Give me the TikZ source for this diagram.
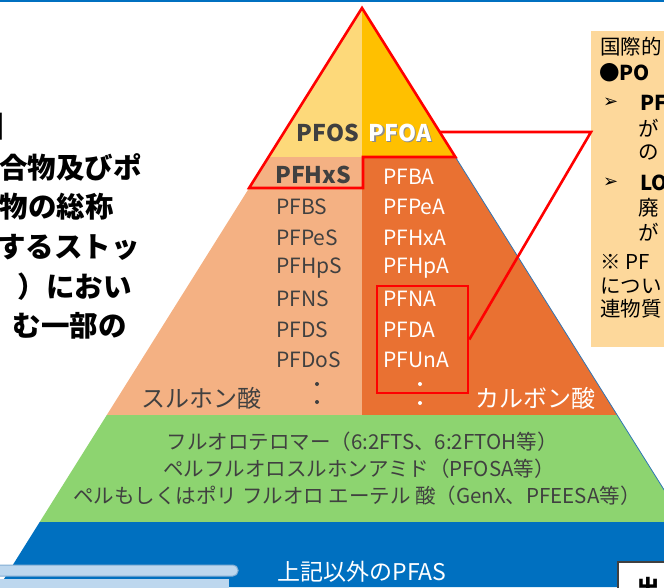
\documentclass[tikz,border=0pt]{standalone}
\usepackage{fontspec}
\newfontfamily\jp{Noto Sans CJK JP}
\newfontfamily\dv{DejaVu Sans}
\definecolor{ylwL}{HTML}{FDD97A}
\definecolor{ylwR}{HTML}{FFC000}
\definecolor{pinkC}{HTML}{F4B183}
\definecolor{orgC}{HTML}{E97132}
\definecolor{grnC}{HTML}{8DD470}
\definecolor{bluC}{HTML}{0070C0}
\definecolor{ltblu}{HTML}{BDD7EE}
\definecolor{edgeblu}{HTML}{2E75B6}
\definecolor{tanC}{HTML}{FDD89B}
\definecolor{txtG}{HTML}{404040}
\definecolor{redC}{HTML}{FF0000}
\tikzset{
  lbl/.style={font=\jp\fontsize{21}{21}\selectfont, inner sep=0pt, anchor=west},
  lblL/.style={lbl, text=txtG},
  lblR/.style={lbl, text=white},
  bigb/.style={font=\jp\bfseries\fontsize{23}{23}\selectfont, inner sep=0pt},
  grn/.style={font=\jp\fontsize{20.5}{20.5}\selectfont, text=txtG, inner sep=0pt},
  lefttxt/.style={font=\jp\bfseries\fontsize{28.5}{28.5}\selectfont, inner sep=0pt, anchor=east, text=black},
  rtxt/.style={font=\jp\fontsize{20.5}{20.5}\selectfont, inner sep=0pt, anchor=west, text=black},
  rtxtb/.style={font=\jp\bfseries\fontsize{20.5}{20.5}\selectfont, inner sep=0pt, anchor=west, text=black},
  arrowsym/.style={font=\dv\fontsize{18}{18}\selectfont, inner sep=0pt, anchor=west, text=black},
  redline/.style={draw=redC, line width=2.6pt},
  dotL/.style={circle, fill=txtG, inner sep=0pt, minimum size=4pt},
  dotR/.style={circle, fill=white, inner sep=0pt, minimum size=4pt}
}
\begin{document}
\begin{tikzpicture}[x=1pt,y=-1pt]
\useasboundingbox (0,0) rectangle (664,587);
\clip (0,0) rectangle (664,587);
% top rule
\draw[bluC, line width=1.6pt] (0,0.8) -- (664,0.8);
% pyramid bands
\fill[ylwL] (362,8) -- (268.6,157) -- (362,157) -- cycle;
\fill[ylwR] (362,8) -- (362,157) -- (455.4,157) -- cycle;
\fill[pinkC] (268.6,157) -- (362,157) -- (362,415) -- (106.8,415) -- cycle;
\fill[orgC] (362,157) -- (455.4,157) -- (617.2,415) -- (362,415) -- cycle;
\fill[grnC] (106.8,415) -- (617.2,415) -- (684.3,522) -- (39.7,522) -- cycle;
\fill[bluC] (39.7,522) -- (684.3,522) -- (725,587) -- (-1,587) -- cycle;
\draw[edgeblu, line width=0.8pt] (455.4,157) -- (725,587);
% bottom-left bars
\draw[draw=edgeblu!60, fill=ltblu, line width=1pt, rounded corners=5pt] (-10,565) rectangle (238,576);
\fill[ltblu] (-5,578.5) rectangle (229,590);
% bottom-right box
\node[draw=txtG, fill=white, line width=1.5pt, minimum width=70pt, minimum height=40pt, anchor=north west, inner sep=0pt] (srcbox) at (617,561) {};
\node[font=\jp\bfseries\fontsize{24}{24}\selectfont, inner sep=0pt, anchor=north west] (srctxt) at (636,577) {出};
% red outline of top
\draw[redline, line join=miter] (362,8) -- (249.1,188) -- (363,188) -- (363,157) -- (455.4,157) -- cycle;
% apex labels
\node[bigb, text=txtG] (pfos) at (328,133) {PFOS};
\node[bigb, text=black!45] at (401.2,134.2) {PFOA};
\node[bigb, text=white] (pfoa) at (400,133) {PFOA};
\node[bigb, text=txtG, anchor=west] (pfhxs) at (275,175) {PFHxS};
% left column
\node[lblL] (pfbs) at (276,207) {PFBS};
\node[lblL] (pfpes) at (276,238) {PFPeS};
\node[lblL] (pfhps) at (276,268) {PFHpS};
\node[lblL] (pfns) at (276,299) {PFNS};
\node[lblL] (pfds) at (276,330) {PFDS};
\node[lblL] (pfdos) at (276,360) {PFDoS};
\node[dotL] (dl1) at (317,384) {};
\node[dotL] (dl2) at (317,402) {};
% right column
\node[lblR] (pfba) at (383,177) {PFBA};
\node[lblR] (pfpea) at (383,207) {PFPeA};
\node[lblR] (pfhxa) at (383,238) {PFHxA};
\node[lblR] (pfhpa) at (383,268) {PFHpA};
\node[lblR] (pfna) at (383,299) {PFNA};
\node[lblR] (pfda) at (383,330) {PFDA};
\node[lblR] (pfuna) at (383,360) {PFUnA};
\node[dotR] (dr1) at (420,384) {};
\node[dotR] (dr2) at (420,403) {};
% red box around PFNA..
\node[redline, minimum width=91pt, minimum height=107pt, inner sep=0pt] (pfnabox) at (422.5,339.5) {};
% acid labels
\node[font=\jp\fontsize{24}{24}\selectfont, text=txtG, inner sep=0pt] (sulf) at (201,398) {スルホン酸};
\node[font=\jp\fontsize{24}{24}\selectfont, text=white, inner sep=0pt] (carb) at (535,398) {カルボン酸};
% green band text
\node[grn] (g1) at (362,442) {フルオロテロマー（6:2FTS、6:2FTOH等）};
\node[grn] (g2) at (359,469) {ペルフルオロスルホンアミド（PFOSA等）};
\node[grn] (g3) at (357,496) {ペルもしくはポリ フルオロ エーテル 酸（GenX、PFEESA等）};
% blue band text
\node[font=\jp\fontsize{23}{23}\selectfont, text=white, inner sep=0pt] (other) at (362,572) {上記以外のPFAS};
% left text (cut off)
\node[lefttxt] (l0) at (21.5,127) {】};
\node[lefttxt] (l1) at (142,167) {合物及びポ};
\node[lefttxt] (l2) at (114,207) {物の総称};
\node[lefttxt] (l3) at (140,247) {するストッ};
\node[lefttxt] (l4) at (132,287) {）におい};
\node[lefttxt] (l5) at (127,326) {む一部の};
% right box
\node[fill=tanC, minimum width=90pt, minimum height=316pt, anchor=north west, inner sep=0pt] (rbox) at (591,31) {};
\node[rtxt] (r1) at (600,47) {国際的};
\node[rtxtb] (r2) at (599,73) {●PO};
\node[arrowsym] (r3a) at (603,103) {➢};
\node[rtxtb] (r3) at (640,103) {PF};
\node[rtxt] (r4) at (638,128) {が};
\node[rtxt] (r5) at (638,152) {の};
\node[arrowsym] (r6a) at (603,183) {➢};
\node[rtxtb] (r6) at (640,183) {LO};
\node[rtxt] (r7) at (638,208) {廃};
\node[rtxt] (r8) at (638,232) {が};
\node[rtxt] (r9) at (600,262) {※ PF};
\node[rtxt] (r10) at (600,286) {につい};
\node[rtxt] (r11) at (600,309) {連物質};
% connector
\coordinate (tedge) at (439.7,132);
\coordinate (bend) at (rbox.west |- tedge);
\draw[redline, line join=miter] (tedge) -- (bend) -- (pfnabox.east);
\end{tikzpicture}
\end{document}
